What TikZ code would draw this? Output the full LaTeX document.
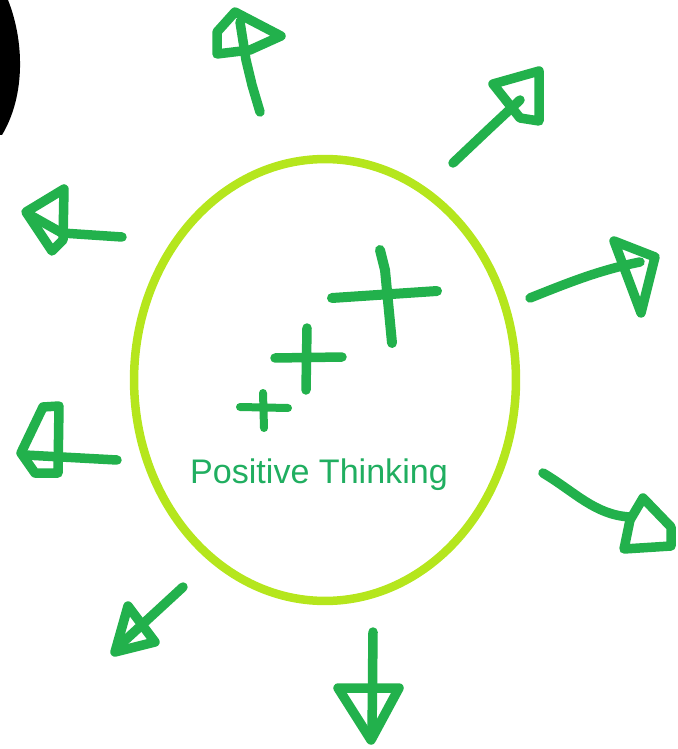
\documentclass[tikz,border=0pt]{standalone}
\usepackage{fontspec}
\usetikzlibrary{shapes.geometric}
\newfontfamily\paintfont{Liberation Sans}
\definecolor{paintgreen}{RGB}{34,177,76}
\definecolor{limegreen}{RGB}{181,230,29}
\definecolor{textgreen}{RGB}{32,174,96}

\begin{document}
\begin{tikzpicture}[x=0.02cm, y=-0.02cm,
    scribble/.style={draw=paintgreen, line width=0.19cm, line cap=round, line join=round}]
    \useasboundingbox (0,0) rectangle (677,749);

    % Black blot at the left edge
    \fill[black] (0,0) -- (8,0) .. controls (24,40) and (26,95) .. (2,135) -- (0,135) -- cycle;

    % Big circle = positive thinking
    \node[draw=limegreen, line width=0.17cm, ellipse, inner sep=0pt,
          minimum width=7.64cm, minimum height=8.84cm] (mind) at (325,380) {};
    \node[textgreen, anchor=base, font=\paintfont\fontsize{19.4}{23}\selectfont] (label) at (319,483) {Positive Thinking};

    % Growing plus signs
    \draw[scribble, line width=0.16cm] (240,407) -- (288,408) (263,393) -- (264,428);
    \draw[scribble] (275,358) -- (342,357) (307,328) -- (306,390);
    \draw[scribble, line width=0.2cm] (332,298) -- (437,291) (380,250) -- (385,270) -- (392,343);

    % Arrows going out
    \draw[scribble] (260,112) -- (252,85) -- (246,60) -- (240,22);
    \draw[scribble] (235,12) -- (217,32) -- (217,54) -- (250,50) -- (281,36) -- cycle;

    \draw[scribble] (453,163) -- (490,128) -- (520,100);
    \draw[scribble] (493,84) -- (539,71) -- (539,121) -- (520,118) -- cycle;

    \draw[scribble] (530,298) .. controls (570,282) and (600,270) .. (640,262);
    \draw[scribble] (614,241) -- (655,257) -- (641,313) -- cycle;

    \draw[scribble] (122,237) -- (62,233) -- (30,215);
    \draw[scribble] (64,189) -- (26,212) -- (52,251) -- (63,240) -- cycle;

    \draw[scribble] (117,460) -- (25,455);
    \draw[scribble] (59,406) -- (43,407) -- (21,453) -- (35,473) -- (58,473) -- cycle;

    \draw[scribble] (183,587) -- (120,645);
    \draw[scribble] (128,606) -- (115,652) -- (155,642) -- cycle;

    \draw[scribble] (373,632) -- (372,735);
    \draw[scribble] (338,688) -- (399,688) -- (371,740) -- cycle;

    \draw[scribble] (543,473) .. controls (575,492) and (595,515) .. (630,517);
    \draw[scribble] (643,498) -- (671,527) -- (671,546) -- (624,549) -- (630,520) -- cycle;
\end{tikzpicture}
\end{document}
